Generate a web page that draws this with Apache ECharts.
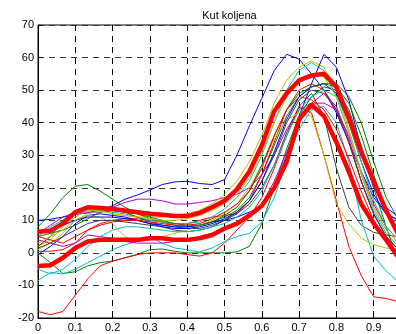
<!DOCTYPE html>
<html>
<head>
<meta charset="utf-8">
<script src="https://cdn.jsdelivr.net/npm/echarts@6/dist/echarts.min.js"></script>
<style>html,body{margin:0;padding:0;background:#fff;overflow:hidden;width:396px;height:334px;}#c{width:430px;height:334px;}</style>
</head>
<body>
<div id="c"></div>
<script>
var title = "Kut koljena";
var xTicks = [0, 0.1, 0.2, 0.3, 0.4, 0.5, 0.6, 0.7, 0.8, 0.9, 1];
var yTicks = [-20, -10, 0, 10, 20, 30, 40, 50, 60, 70];
// sample times (step 1/30)
var times = [0,0.0333,0.0667,0.1,0.1333,0.1667,0.2,0.2333,0.2667,0.3,0.3333,0.3667,0.4,0.4333,0.4667,0.5,0.5333,0.5667,0.6,0.6333,0.6667,0.7,0.7333,0.7667,0.8,0.8333,0.8667,0.9,0.9333,0.9667];

var blueA   = [10,10.3,11,11.8,12.3,13.2,14.5,16.5,17.8,19.3,21,21.8,22,21.3,21,22.5,30,39,47.5,56,61,59.5,55,50,43,34,25,17,12,10];
var blueB   = [-0.5,2,5,9,11.5,12,11.5,11,10,9,8.5,8,8,8.5,9.5,10,11,12.5,14,20,30,42,52,61,57,47,32,20,14,11];
var blueC   = [6,7,8.5,10,11,11,11,10.5,10,9,8,7.5,7.5,8,9,10.5,12.5,16,22,31,41,48,51,52,49,40,28,18,12,10];
var greenA  = [8,12,17,20.5,21,19,16.5,14,12,10.5,9.5,8.5,8,8.5,9.5,11,13,17,24,33,42,48,51,52,52,48,40,28,17,10];
var greenB  = [0,-3,-6.3,-5.8,-4,-3,-2.5,-1.5,-0.5,1,1.2,0.5,0,0,0,0,0.3,2,9,20,32,42,48,51,50,44,33,20,8,-3];
var greenC  = [5,6,7,8.5,10.5,12.5,13,12.5,12,11,10,9,8.5,8.5,9.5,11.5,14,19,27,36,44,49,51,52,51,46,36,24,13,6];
var redA    = [-18,-19,-18,-13,-8,-4,-2.5,-1.5,-0.5,0,0,0,-0.5,-1,0,3,7,11,17,26,36,45,43,30,16,2,-7,-13.5,-14,-15];
var redB    = [0.5,0.5,1,3,7,9,10,10.5,10.5,10,9.5,9,9,10,11,11.5,12,16,24,34,44,50,52,50,44,34,22,12,5,1];
var redC    = [5,4,3,5,7,8.5,9.5,10,10,9.5,9,8.5,8.5,9,10.5,12.5,15,19,26,36,44,48,47,44,38,29,19,10,4,0];
var cyanA   = [-8.5,-6,-6.5,-5,-3,-1,1,2.5,3.5,5,3,1.5,1,0.3,1.5,3.5,5,6,9.5,17,28,38,44,45,40,28,10,-1,-5.5,-9];
var cyanB   = [5,8,10,12,13,13,12.5,12,11,10,9.5,9,9,9.5,11,13.5,17,22,30,40,50,56,58.5,56,48,37,24,13,6,2];
var cyanC   = [-5,-6.5,-5,-2,2,5,7,8,8,7.5,7,6.5,6.5,7,8,9,11,14,19,27,36,44,48,50,48,40,28,16,8,4];
var magA    = [6,8.5,11,12.5,12.5,12.5,14,15.5,16.5,16.5,16,15,15,15.5,16,17,18,20,24,30,38,44,46,46,44,36,25,15,8,4];
var magB    = [4,3,2,3,5.5,5,4.5,3.5,3,3,3,3.5,4,5,6,7,8.5,11,15,22,31,40,46,49,45,35,22,12,5,1];
var yelA    = [1,3,6,10,11.5,11,9,5,3.5,4,5,6,7,8.5,10,12,15,20,27,35,41,43,42,30,15,9,4.5,2.5,1.5,1];
var yelB    = [2,4,8,11,13,13,12,11.5,11,11,11,11.5,12,13,15,18,22,28,36,46,53,57,59,57,50,38,25,14,7,3];
var yelC    = [3,5,7,10,12,13,12,11.5,11,10.5,10,10,10.5,11.5,13,15,18,23,31,40,48,53,55,54,48,37,24,14,7,3];
var grayA   = [2,5,10,13,14,14,13.5,12.5,11,9.5,8.5,8,7.5,7.5,8.5,10,12,15,20,27,37,45,49,42,26,14,8.5,6.3,5.5,5];
var grayB   = [1.5,3,5,7,9,10,10,9.5,9,8.5,8,7,6.5,7,8,10,12.5,16,22,30,40,47,50,49,44,34,22,12,5,1];
var thickUpper = [6.5,6.8,9,12.5,14,13.8,13.5,13,12.5,12,11.7,11.3,11.3,12.3,14,16,19.5,25,33,43.5,49,53,54.5,55,51,41.5,31,22,13,5.5];
var thickLower = [-4,-3.8,-1.5,1.5,3.5,4,4,4,4,4.5,4.5,4,4,4.5,5.5,7.5,9,11.5,14.5,20,28,41,45.5,42,34,25,15,9,4,-1.5];

var thin = [
  [blueA,'#0000ff'],[greenA,'#008000'],[redB,'#ff0000'],[cyanB,'#00bfbf'],[magA,'#bf00bf'],[yelB,'#bfbf00'],[grayA,'#404040'],
  [blueB,'#0000ff'],[greenB,'#008000'],[redA,'#ff0000'],[cyanA,'#00bfbf'],[magB,'#bf00bf'],[yelA,'#bfbf00'],[grayB,'#404040'],
  [blueC,'#0000ff'],[greenC,'#008000'],[redC,'#ff0000'],[cyanC,'#00bfbf'],[yelC,'#bfbf00']
];
function pairs(v){ return v.map(function(y,i){ return [times[i], y]; }); }
var series = thin.map(function(s){
  return {type:'line', data:pairs(s[0]), symbol:'none', silent:true, animation:false,
          lineStyle:{color:s[1], width:1}};
});
[thickUpper, thickLower].forEach(function(v){
  series.push({type:'line', data:pairs(v), symbol:'none', silent:true, animation:false,
               lineStyle:{color:'#ff0000', width:4.5}});
});

var font = 'Liberation Sans, Arial, sans-serif';
var chart = echarts.init(document.getElementById('c'), null, {renderer:'canvas'});
chart.setOption({
  animation:false,
  backgroundColor:'#ffffff',
  title:{text:title, left:224.5, top:5, textAlign:'center',
         textStyle:{fontFamily:font, fontSize:11, fontWeight:'normal', color:'#000'}},
  grid:{left:38, top:25, width:373, height:293, show:true, borderColor:'#000', borderWidth:1, backgroundColor:'transparent'},
  xAxis:{type:'value', min:xTicks[0], max:xTicks[xTicks.length-1], interval:0.1,
    axisLine:{show:true, onZero:false, lineStyle:{color:'#000', width:1}},
    axisTick:{show:true, inside:true, length:4, lineStyle:{color:'#000'}},
    axisLabel:{color:'#000', fontFamily:font, fontSize:11, margin:4,
      formatter:function(v){ return String(Math.round(v*10)/10); }},
    splitLine:{show:true, lineStyle:{color:'#000', type:[6,5], width:1}}},
  yAxis:{type:'value', min:yTicks[0], max:yTicks[yTicks.length-1], interval:10,
    axisLine:{show:true, onZero:false, lineStyle:{color:'#000', width:1}},
    axisTick:{show:true, inside:true, length:4, lineStyle:{color:'#000'}},
    axisLabel:{color:'#000', fontFamily:font, fontSize:11, margin:4},
    splitLine:{show:true, lineStyle:{color:'#333', type:[6,5], width:1}}},
  series:series
});
</script>
</body>
</html>
